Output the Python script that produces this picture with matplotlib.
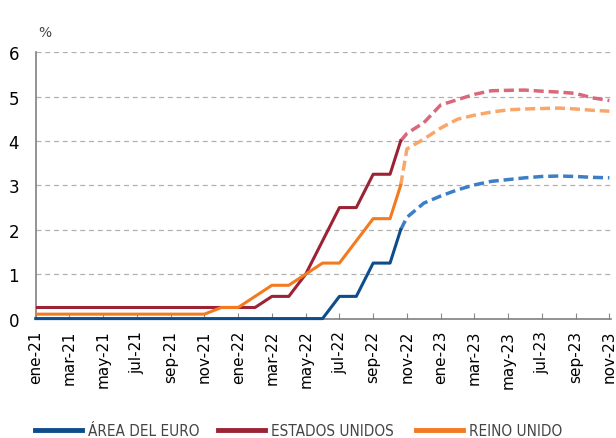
import numpy as np
import matplotlib.pyplot as plt
from matplotlib.lines import Line2D

# month index: 0 = ene-21 ... 34 = nov-23 ; 21.63 = mid nov-22 (last observed)
meses_obs = [0, 1, 2, 3, 4, 5, 6, 7, 8, 9, 10, 11, 12, 13, 14, 15, 16, 17, 18, 19, 20, 21, 21.63]
euro_obs = [0, 0, 0, 0, 0, 0, 0, 0, 0, 0, 0, 0, 0, 0, 0, 0, 0, 0, 0.5, 0.5, 1.25, 1.25, 2.0]
eeuu_obs = [0.25, 0.25, 0.25, 0.25, 0.25, 0.25, 0.25, 0.25, 0.25, 0.25, 0.25, 0.25, 0.25, 0.25,
            0.5, 0.5, 1.0, 1.75, 2.5, 2.5, 3.25, 3.25, 4.0]
uk_obs = [0.1, 0.1, 0.1, 0.1, 0.1, 0.1, 0.1, 0.1, 0.1, 0.1, 0.1, 0.25, 0.25, 0.5,
          0.75, 0.75, 1.0, 1.25, 1.25, 1.75, 2.25, 2.25, 3.0]

# expectativas de mercado
meses_exp = [21.63, 22, 23, 24, 25, 26, 27, 28, 29, 30, 31, 32, 33, 34]
euro_exp = [2.0, 2.28, 2.6, 2.76, 2.9, 3.01, 3.09, 3.13, 3.17, 3.2, 3.21, 3.2, 3.18, 3.17]
eeuu_exp = [4.0, 4.17, 4.41, 4.81, 4.93, 5.05, 5.13, 5.14, 5.145, 5.12, 5.1, 5.07, 4.97, 4.91]
uk_exp = [3.0, 3.82, 4.04, 4.29, 4.49, 4.58, 4.65, 4.7, 4.72, 4.73, 4.74, 4.72, 4.69, 4.67]

etiquetas = ["ene-21", "mar-21", "may-21", "jul-21", "sep-21", "nov-21",
             "ene-22", "mar-22", "may-22", "jul-22", "sep-22", "nov-22",
             "ene-23", "mar-23", "may-23", "jul-23", "sep-23", "nov-23"]
series = ["ÁREA DEL EURO", "ESTADOS UNIDOS", "REINO UNIDO"]

c_euro, c_euro_d = "#0e4c8a", "#3d7ec8"
c_us, c_us_d = "#9b2335", "#d9687b"
c_uk, c_uk_d = "#f47a20", "#f9a66a"

fig = plt.figure(figsize=(6.16, 4.39), dpi=100)
ax = fig.add_axes([0.058, 0.272, 0.934, 0.607])

dash = (2.9, 1.4)
ax.plot(meses_exp, euro_exp, color=c_euro_d, lw=2.5, dashes=dash, zorder=3)
ax.plot(meses_exp, eeuu_exp, color=c_us_d, lw=2.5, dashes=dash, zorder=3)
ax.plot(meses_exp, uk_exp, color=c_uk_d, lw=2.5, dashes=dash, zorder=3)
ax.plot(meses_obs, eeuu_obs, color=c_us, lw=2.2, zorder=4)
ax.plot(meses_obs, uk_obs, color=c_uk, lw=2.2, zorder=4)
ax.plot(meses_obs, euro_obs, color=c_euro, lw=2.2, zorder=5, clip_on=False)

ax.set_xlim(0, 34.1)
ax.set_ylim(0, 6)
ax.set_yticks(range(0, 7))
ax.yaxis.grid(True, color="#b0b0b0", linestyle=(0, (4, 3)), lw=0.9)
ax.set_axisbelow(True)
ax.set_xticks(np.arange(0, 35, 2))
ax.set_xticklabels(etiquetas, rotation=90, fontsize=11)
ax.tick_params(axis="x", direction="in", length=4, color="#888888", pad=8)
ax.tick_params(axis="y", length=0, labelsize=12, pad=12)
for s in ["top", "right"]:
    ax.spines[s].set_visible(False)
for s in ["left", "bottom"]:
    ax.spines[s].set_color("#808080")
    ax.spines[s].set_linewidth(1.2)

fig.text(0.062, 0.91, "%", fontsize=10, color="#444444", ha="left", va="bottom")

# legend: one entry per box, placed like the reference
colores = [c_euro, c_us, c_uk]
x_leg = [0.057, 0.354, 0.675]
for nombre, col, xl in zip(series, colores, x_leg):
    leg = fig.legend([Line2D([], [], color=col, lw=3.5)], [nombre],
                     loc="center left", bbox_to_anchor=(xl, 0.016), frameon=False,
                     borderpad=0, borderaxespad=0, handlelength=3.1, handletextpad=0.35,
                     prop={"family": "DejaVu Sans", "stretch": "condensed", "size": 11})
    leg.get_texts()[0].set_color("#444444")

fig.savefig("out.png", dpi=100)
